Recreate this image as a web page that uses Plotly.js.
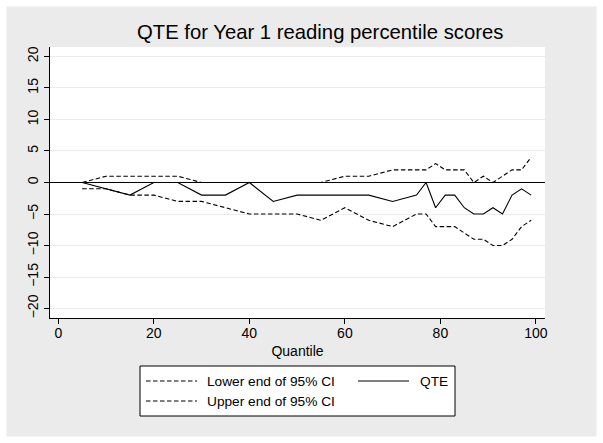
<!DOCTYPE html>
<html>
<head>
<meta charset="utf-8">
<script src="https://cdn.plot.ly/plotly-3.0.1.min.js"></script>
<style>html,body{margin:0;padding:0;background:#fff;}#chart{width:603px;height:443px;}</style>
</head>
<body>
<div id="chart"></div>
<script>
// Quantiles (x) and series values
var quantiles = [5,10,15,20,25,30,35,40,45,50,55,60,65,70,75,77,79,81,83,85,87,89,91,93,95,97,99];
var qte       = [0,-1,-2,0,0,-2,-2,0,-3,-2,-2,-2,-2,-3,-2,0,-4,-2,-2,-4,-5,-5,-4,-5,-2,-1,-2];
var upperCI   = [0,1,1,1,1,0,0,0,0,0,0,1,1,2,2,2,3,2,2,2,0,1,0,1,2,2,4];
var lowerCI   = [-1,-1,-2,-2,-3,-3,-4,-5,-5,-5,-6,-4,-6,-7,-5,-5,-7,-7,-7,-8,-9,-9,-10,-10,-9,-7,-6];
var yTicks = [-20,-15,-10,-5,0,5,10,15,20];
var xTicks = [0,20,40,60,80,100];
var seriesNames = ["Lower end of 95% CI", "QTE", "Upper end of 95% CI"];

var FONT = "Liberation Sans, Arial, Helvetica, sans-serif";
var dashStyle = "4.5px,2.5px";

var traces = [
  {x: quantiles, y: lowerCI, type: "scatter", mode: "lines", name: seriesNames[0],
   line: {color: "#000", width: 1.1, dash: dashStyle}},
  {x: quantiles, y: qte, type: "scatter", mode: "lines", name: seriesNames[1],
   line: {color: "#000", width: 1.1}},
  {x: quantiles, y: upperCI, type: "scatter", mode: "lines", name: seriesNames[2],
   line: {color: "#000", width: 1.1, dash: dashStyle}}
];

// pixel -> paper helpers (plot area: x 50..545, y 47..318)
var L = 50, R = 545, T = 47, B = 318;
function px(x) { return (x - L) / (R - L); }
function py(y) { return (B - y) / (B - T); }

// Legend drawn manually (Stata-style two-column box)
var legendItems = [
  {name: seriesNames[0], dash: dashStyle, sx: 146, tx: 205, y: 381},
  {name: seriesNames[1], dash: "solid",   sx: 358, tx: 418, y: 381},
  {name: seriesNames[2], dash: dashStyle, sx: 146, tx: 205, y: 401}
];
var shapes = [
  {type: "rect", xref: "paper", yref: "paper",
   x0: px(0), x1: px(603), y0: py(443), y1: py(0),
   line: {color: "#ffffff", width: 13}, fillcolor: "rgba(0,0,0,0)", layer: "below"},
  {type: "rect", xref: "paper", yref: "paper",
   x0: px(140), x1: px(455), y0: py(416), y1: py(366),
   line: {color: "#000", width: 1}, fillcolor: "#ffffff", layer: "above"}
];
var annotations = [];
legendItems.forEach(function (it) {
  shapes.push({type: "line", xref: "paper", yref: "paper",
    x0: px(it.sx), x1: px(it.sx + 51), y0: py(it.y), y1: py(it.y),
    line: {color: "#000", width: 1.1, dash: it.dash}, layer: "above"});
  annotations.push({xref: "paper", yref: "paper", x: px(it.tx), y: py(it.y),
    xanchor: "left", yanchor: "middle", showarrow: false, text: it.name,
    font: {family: FONT, size: 13.7, color: "#000"}});
});

var layout = {
  width: 603, height: 443,
  margin: {l: 50, r: 58, t: 47, b: 125, autoexpand: false},
  paper_bgcolor: "#ebebeb",
  plot_bgcolor: "#ffffff",
  font: {family: FONT, color: "#000", size: 13},
  title: {text: "QTE for Year 1 reading percentile scores",
          font: {family: FONT, size: 20.3, color: "#000"},
          xref: "container", x: 0.531, xanchor: "center",
          yref: "container", y: 0.928, yanchor: "middle"},
  xaxis: {range: [-1.74, 101.9], tickvals: xTicks, ticks: "outside", ticklen: 5, tickwidth: 1,
          tickcolor: "#000", showline: true, linecolor: "#000", linewidth: 1,
          showgrid: false, zeroline: false, tickfont: {size: 14}, ticklabelstandoff: -3,
          title: {text: "Quantile", font: {size: 14}, standoff: 6}},
  yaxis: {range: [-21.5, 21.5], tickvals: yTicks, ticks: "outside", ticklen: 5, tickwidth: 1,
          tickcolor: "#000", showline: true, linecolor: "#000", linewidth: 1,
          showgrid: true, gridcolor: "#ececec", gridwidth: 1,
          zeroline: true, zerolinecolor: "#000", zerolinewidth: 1,
          tickangle: -90, tickfont: {size: 14}},
  showlegend: false,
  shapes: shapes,
  annotations: annotations
};

Plotly.newPlot("chart", traces, layout, {displayModeBar: false, staticPlot: true});
</script>
</body>
</html>
